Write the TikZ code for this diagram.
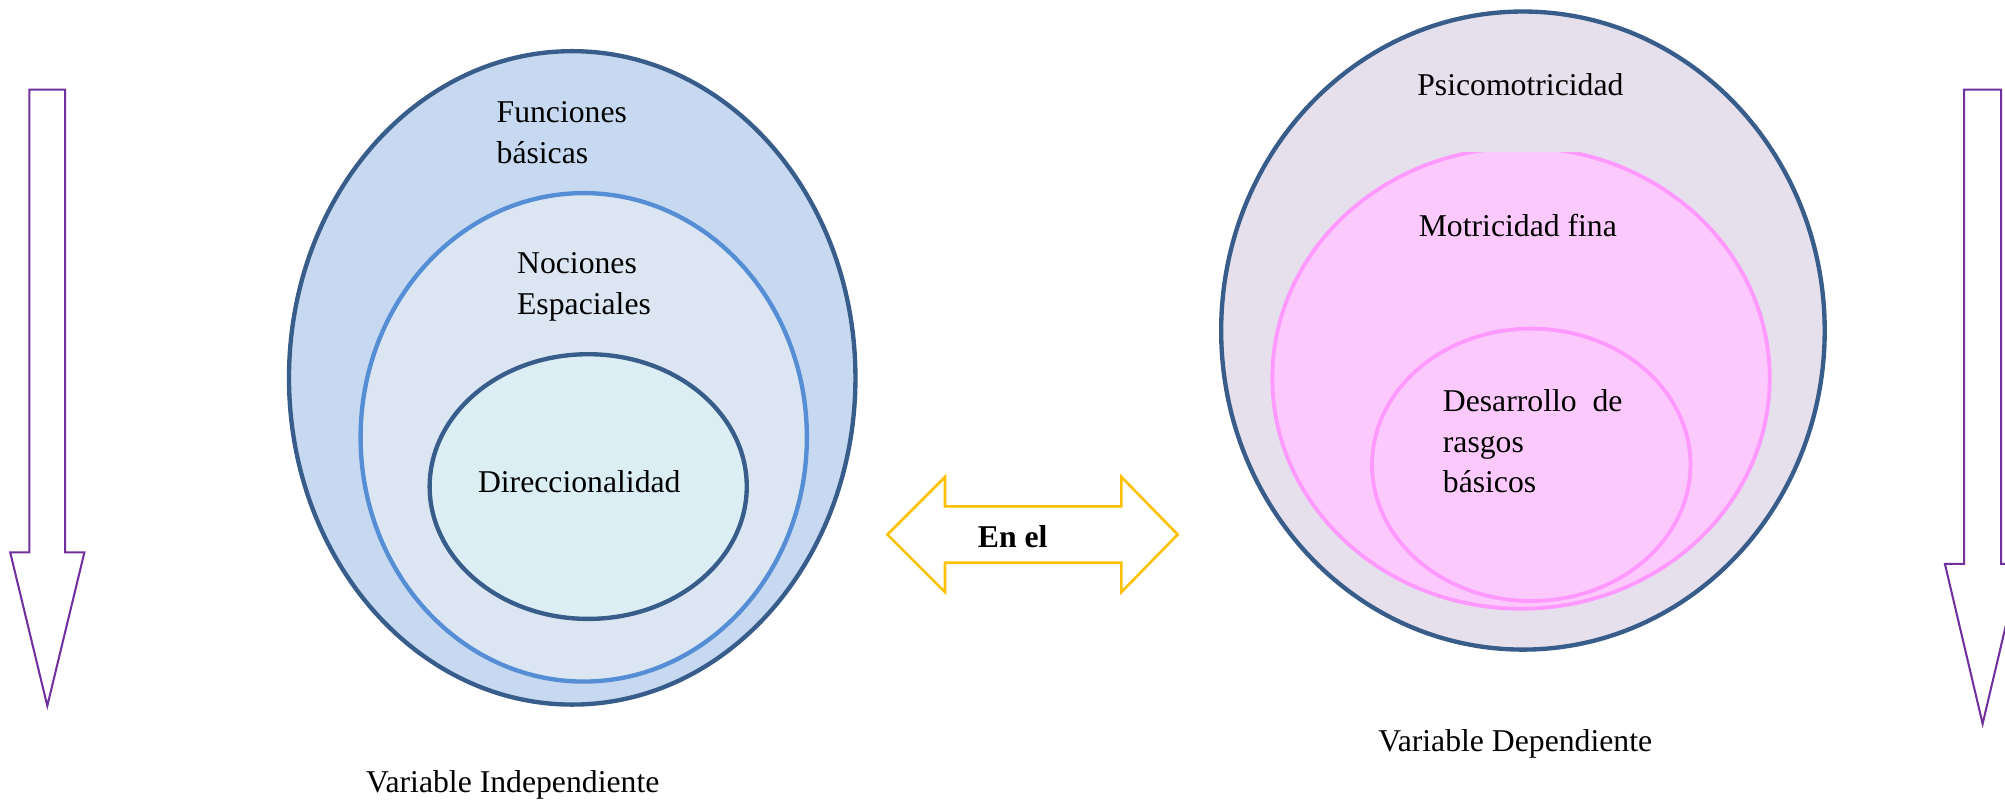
\documentclass[tikz,border=0pt]{standalone}
\usepackage{fontspec}
\setmainfont{Liberation Serif}
\usepackage{tikz}
\usetikzlibrary{shapes.geometric}

\definecolor{darkrim}{RGB}{56,93,138}
\definecolor{midrim}{RGB}{85,142,213}
\definecolor{outerfill}{RGB}{198,217,241}
\definecolor{midfill}{RGB}{220,230,242}
\definecolor{innerfill}{RGB}{219,238,244}
\definecolor{lilacfill}{RGB}{229,224,236}
\definecolor{pinkrim}{RGB}{255,153,255}
\definecolor{pinkfill}{RGB}{252,201,252}
\definecolor{arrowpurple}{RGB}{112,48,160}
\definecolor{arrowyellow}{RGB}{255,192,0}

\tikzset{
  oval/.style={ellipse, inner sep=0pt, line width=1.7pt},
  pinkoval/.style={ellipse, inner sep=0pt, line width=1.5pt, draw=pinkrim, fill=pinkfill},
  label/.style={inner sep=0pt, align=left}
}

\begin{document}
\begin{tikzpicture}[x=0.5pt, y=-0.5pt, font=\fontsize{12.4}{16}\selectfont]
			\useasboundingbox (0, 0) rectangle (1568, 629);
			% side arrows
			\foreach \l/\r/\s/\t in {23/51/432/552, 1536/1565/441/566}
			{
				\pgfmathsetmacro{\m}{(\l+\r)/2}
				\draw[arrowpurple, line width=0.8pt] (\l, 70) -- (\r, 70) -- (\r, \s) -- (\r+15, \s)
					-- (\m, \t) -- (\l-15, \s) -- (\l, \s) -- cycle;
			}
			% independent variable
			\node[oval, draw=darkrim, fill=outerfill, minimum width=221.5pt, minimum height=255.5pt] (funciones) at (447.5, 295.5) {};
			\node[oval, draw=midrim, fill=midfill, minimum width=174.5pt, minimum height=191pt] (nociones) at (456.5, 342) {};
			\node[oval, draw=darkrim, fill=innerfill, minimum width=124pt, minimum height=103.5pt] (direccion) at (460, 380.5) {};
			\node[label, anchor=west] (tfunciones) at (388, 104) {Funciones\\básicas};
			\node[label, anchor=west] (tnociones) at (404, 224) {Nociones\\Espaciales};
			\node[label] (tdireccion) at (453, 377) {Direccionalidad};
			\node[label] (indep) at (401, 614) {Variable Independiente};
			% dependent variable
			\node[oval, draw=darkrim, fill=lilacfill, minimum width=236pt, minimum height=249.5pt] (psico) at (1191, 258.5) {};
			\begin{scope}
				\clip (900, 119) rectangle (1450, 520);
				\node[pinkoval, minimum width=194.5pt, minimum height=180.3pt] (fina) at (1189.5, 295.7) {};
			\end{scope}
			\node[pinkoval, minimum width=124.5pt, minimum height=106.5pt] (rasgos) at (1197.5, 363.5) {};
			\node[label] (tpsico) at (1189, 66) {Psicomotricidad};
			\node[label] (tfina) at (1187, 176) {Motricidad fina};
			\node[label, anchor=west] (trasgos) at (1128, 345) {Desarrollo\ \ de\\rasgos\\básicos};
			\node[label] (dep) at (1185, 582) {Variable Dependiente};
			% link
			\draw[arrowyellow, line width=1pt] (694, 418) -- (739, 373) -- (739, 396) -- (877, 396) -- (877, 373)
				-- (921, 418) -- (877, 463) -- (877, 440) -- (739, 440) -- (739, 463) -- cycle;
			\node[label, font=\fontsize{12.4}{16}\selectfont\bfseries] (enel) at (792, 420) {En el};
		\end{tikzpicture}
\end{document}
